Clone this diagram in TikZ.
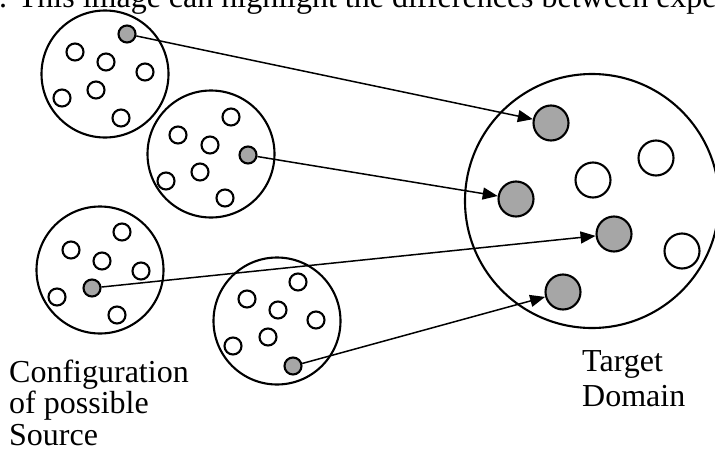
\documentclass[tikz,border=0pt]{standalone}
\usepackage{fontspec}
\setmainfont{Liberation Serif}
\usetikzlibrary{arrows.meta}
\tikzset{>={Triangle[length=15pt,width=12pt]}}
\tikzstyle{confset}=[circle,draw,line width=2.1pt,minimum size=127pt,inner sep=0]
\tikzstyle{targetset}=[circle,draw,line width=2.1pt,minimum size=254pt,inner sep=0]
\tikzstyle{sample}=[circle,draw,line width=2.1pt,fill=white,minimum size=17pt,inner sep=0]
\tikzstyle{samplec}=[sample,fill=black!35]
\tikzstyle{tsample}=[circle,draw,line width=2.1pt,fill=white,minimum size=35pt,inner sep=0]
\tikzstyle{tsamplec}=[tsample,fill=black!35]
\tikzstyle{label}=[inner sep=0,align=left,anchor=base west]

\begin{document}
\begin{tikzpicture}[x=1pt,y=-1pt]
	\useasboundingbox (0,0) rectangle (715,450);
	\clip (0,0) rectangle (715,450);

	% caption line running off the top
	\node[label,font=\fontsize{32}{32}\selectfont] (caption) at (-1,7) {. This image can highlight the differences between expe};

	% possible source configurations
	\node[confset] (config1) at (105,74) {};
	\node[samplec] (c1g) at (127,34) {};
	\node[sample] (c1a) at (75,52) {};
	\node[sample] (c1b) at (106,62) {};
	\node[sample] (c1c) at (145,72) {};
	\node[sample] (c1d) at (96,90) {};
	\node[sample] (c1e) at (62,98) {};
	\node[sample] (c1f) at (121,118) {};

	\node[confset] (config2) at (211,154) {};
	\node[sample] (c2a) at (231,117) {};
	\node[sample] (c2b) at (178,135) {};
	\node[sample] (c2c) at (210,145) {};
	\node[samplec] (c2g) at (248,155) {};
	\node[sample] (c2d) at (200,172) {};
	\node[sample] (c2e) at (166,181) {};
	\node[sample] (c2f) at (225,198) {};

	\node[confset] (config3) at (100,270) {};
	\node[sample] (c3a) at (122,232) {};
	\node[sample] (c3b) at (71,250) {};
	\node[sample] (c3c) at (102,261) {};
	\node[sample] (c3d) at (141,271) {};
	\node[samplec] (c3g) at (92,288) {};
	\node[sample] (c3e) at (57,297) {};
	\node[sample] (c3f) at (117,315) {};

	\node[confset] (config4) at (277,321) {};
	\node[sample] (c4a) at (298,282) {};
	\node[sample] (c4b) at (247,299) {};
	\node[sample] (c4c) at (278,310) {};
	\node[sample] (c4d) at (316,320) {};
	\node[sample] (c4e) at (268,337) {};
	\node[sample] (c4f) at (233,346) {};
	\node[samplec] (c4g) at (293,366) {};

	% target domain
	\node[targetset] (target) at (592,201) {};
	\node[tsamplec] (t1) at (551,123) {};
	\node[tsamplec] (t2) at (516,199) {};
	\node[tsample] (t3) at (593,180) {};
	\node[tsample] (t4) at (656,158) {};
	\node[tsamplec] (t5) at (614,234) {};
	\node[tsample] (t6) at (682,251) {};
	\node[tsamplec] (t7) at (563,292) {};

	\draw[->,line width=1.5pt] (c1g) -- (t1);
	\draw[->,line width=1.5pt] (c2g) -- (t2);
	\draw[->,line width=1.5pt] (c3g) -- (t5);
	\draw[->,line width=1.5pt] (c4g) -- (t7);

	% the base of a multi-line label is its last line
	\node[label,font=\fontsize{32}{31.5}\selectfont] (srclabel) at (9,445) {Configuration\\of possible\\Source};
	\node[label,font=\fontsize{32}{35}\selectfont] (tgtlabel) at (582,406) {Target\\Domain};
\end{tikzpicture}
\end{document}
